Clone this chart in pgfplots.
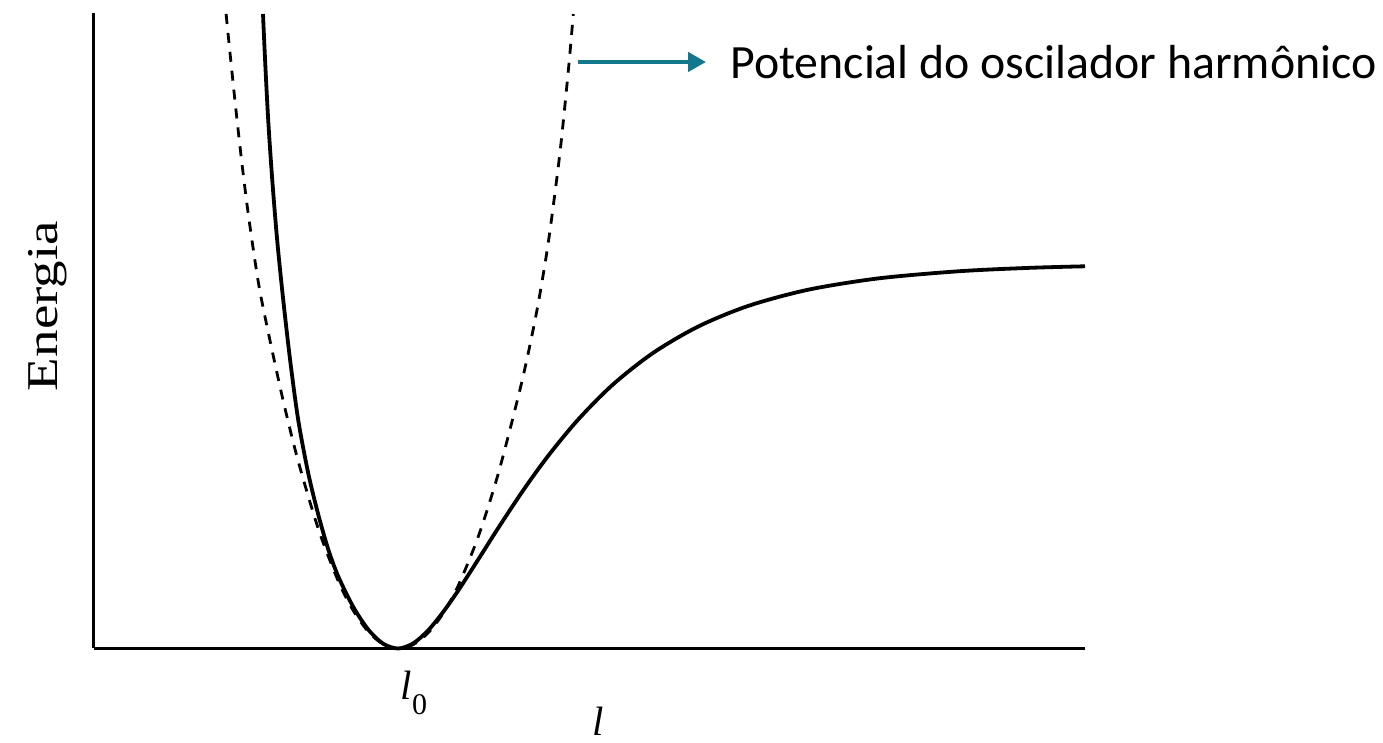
\documentclass[border=0pt]{standalone}
\usepackage{pgfplots}
\usepackage{pgfplotstable}
\pgfplotsset{compat=1.18}
\usetikzlibrary{arrows.meta}
\usepackage{fontspec}
\setmainfont{Liberation Serif}
\newfontfamily\calibri{Carlito}
\definecolor{arrowteal}{RGB}{18,120,142}

% Morse-type potential (solid curve)
\pgfplotstableread{
l E
1.690 6.345
1.713 5.84
1.743 5.27
1.783 4.68
1.833 4.07
1.893 3.48
1.963 2.87
2.043 2.28
2.143 1.75
2.243 1.338
2.343 0.99
2.443 0.72
2.593 0.415
2.743 0.189
2.893 0.047
3.043 0.000
3.193 0.052
3.343 0.183
3.493 0.367
3.643 0.581
3.843 0.891
4.043 1.206
4.293 1.583
4.543 1.928
4.843 2.291
5.193 2.643
5.593 2.957
6.043 3.220
6.543 3.426
7.143 3.588
7.843 3.701
8.643 3.772
9.343 3.806
9.910 3.822
}\morse

% harmonic oscillator potential (dashed curve)
\pgfplotstableread{
l E
1.321 6.345
1.363 5.927
1.413 5.447
1.473 4.905
1.543 4.343
1.643 3.665
1.743 3.160
1.893 2.473
2.043 1.870
2.243 1.197
2.443 0.673
2.593 0.379
2.743 0.168
2.893 0.042
3.043 0.000
3.193 0.039
3.343 0.158
3.493 0.354
3.643 0.630
3.843 1.120
4.043 1.750
4.243 2.520
4.343 2.956
4.443 3.454
4.543 4.060
4.643 4.819
4.693 5.270
4.743 5.777
4.768 6.050
4.793 6.345
}\harmonic

\begin{document}
\begin{tikzpicture}
\useasboundingbox (-47pt,-47.25pt) rectangle (644.5pt,324.25pt);
\begin{axis}[
  at={(0pt,0pt)}, anchor=south west,
  scale only axis, width=495.5pt, height=317.5pt,
  xmin=0, xmax=9.91, ymin=0, ymax=6.35,
  axis x line=bottom, axis y line=left,
  axis line style={-, line width=1.5pt, black},
  xtick=\empty, ytick=\empty,
  clip=false,
]
\addplot[black, line width=1.4pt, dash pattern=on 5pt off 4.5pt, smooth] table {\harmonic};
\addplot[black, line width=1.9pt, smooth] table {\morse};

\draw[arrowteal, line width=2.2pt, -{Triangle[length=9pt,width=9.5pt]}] (axis cs:4.84,5.865) -- (axis cs:6.12,5.865);
\node[anchor=west, inner sep=0pt, font=\calibri\fontsize{23.9pt}{28pt}\selectfont] at (axis cs:6.36,5.865) {Potencial do oscilador harmônico};

\node[rotate=90, xscale=1.25, inner sep=0pt, font=\fontsize{22pt}{26pt}\selectfont] at (axis cs:-0.46,3.425) {Energia};
\node[inner sep=0pt, font=\fontsize{20.5pt}{24pt}\selectfont] at (axis cs:3.20,-0.445) {\textit{l}\raisebox{-7.5pt}{\fontsize{15pt}{18pt}\selectfont 0}};
\node[inner sep=0pt, font=\fontsize{20.5pt}{24pt}\selectfont] at (axis cs:5.04,-0.73) {\textit{l}};
\end{axis}
\end{tikzpicture}
\end{document}
